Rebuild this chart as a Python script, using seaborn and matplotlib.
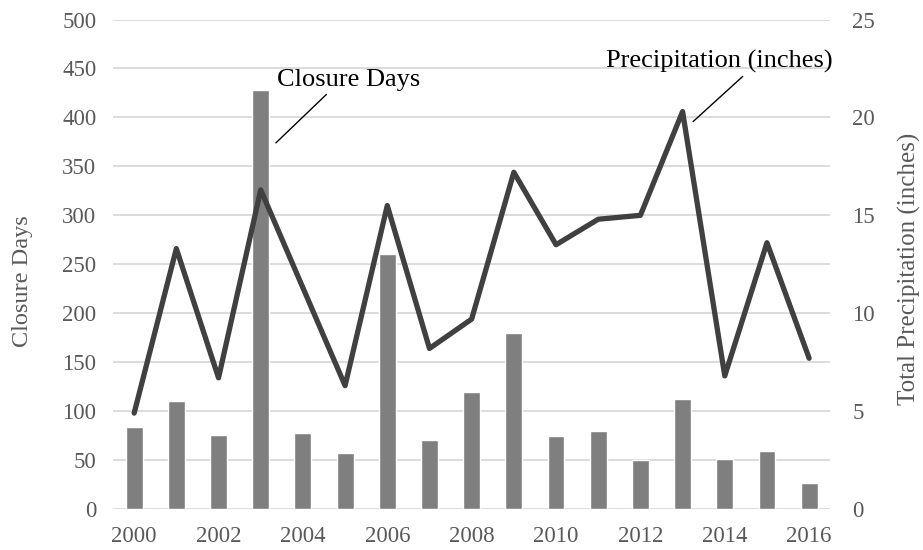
import matplotlib
matplotlib.use("Agg")
import matplotlib.pyplot as plt
import seaborn as sns
import pandas as pd

# Yearly data
years = list(range(2000, 2017))
closure_days = [84, 110, 76, 428, 78, 57, 260, 70, 120, 180, 75, 80, 50, 112, 51, 59, 27]
precip_inches = [4.9, 13.3, 6.7, 16.3, 11.3, 6.3, 15.5, 8.2, 9.7, 17.2, 13.5, 14.8, 15.0, 20.3, 6.8, 13.6, 7.7]
x_ticks = list(range(2000, 2017, 2))
left_ticks = list(range(0, 501, 50))
right_ticks = list(range(0, 26, 5))

df = pd.DataFrame({"Year": years, "Closure Days": closure_days,
                   "Precipitation": precip_inches})

sns.set_theme(style="white")
plt.rcParams["font.family"] = ["Liberation Serif", "DejaVu Serif"]

tick_color = "#595959"
grid_color = "#d9d9d9"
bar_color = "#7f7f7f"
line_color = "#404040"
tick_size = 16.5
note_size = 19

fig = plt.figure(figsize=(9.23, 5.5), dpi=100)
ax = fig.add_axes([0.1225, 0.0745, 0.777, 0.89])

sns.barplot(data=df, x="Year", y="Closure Days", native_scale=True,
            width=0.4, color=bar_color, saturation=1, ax=ax)

ax.set_xlim(1999.5, 2016.5)
ax.set_ylim(0, 500)
ax.set_yticks(left_ticks)
ax.set_xticks(x_ticks)
ax.set_xticklabels([str(t) for t in x_ticks])
ax.grid(axis="y", color=grid_color, linewidth=1.3)
ax.set_axisbelow(True)
for s in ax.spines.values():
    s.set_visible(False)
ax.tick_params(axis="x", length=0, pad=12, labelsize=tick_size, colors=tick_color)
ax.tick_params(axis="y", length=0, pad=12, labelsize=tick_size, colors=tick_color)
ax.set_xlabel("")
ax.set_ylabel("Closure Days", fontsize=17.5, color=tick_color,
              va="center", ha="center")
ax.yaxis.set_label_coords(-0.126, 0.465)

ax2 = ax.twinx()
sns.lineplot(data=df, x="Year", y="Precipitation", color=line_color,
             linewidth=3.8, ax=ax2)
ax2.set_ylim(0, 25)
ax2.set_yticks(right_ticks)
for s in ax2.spines.values():
    s.set_visible(False)
ax2.tick_params(axis="y", length=0, pad=16, labelsize=tick_size, colors=tick_color)
ax2.set_ylabel("Total Precipitation (inches)", fontsize=18, color=tick_color,
               va="center", ha="center", rotation=90)
ax2.yaxis.set_label_coords(1.11, 0.49)

# Series labels with leader lines
ax.annotate("Closure Days", xy=(2003.36, 374), xytext=(2003.38, 438),
            fontsize=note_size, color="black", va="center", ha="left",
            arrowprops=dict(arrowstyle="-", color="black", lw=1,
                            shrinkA=0, shrinkB=0, relpos=(0.37, 0)))
ax2.annotate("Precipitation (inches)", xy=(2013.25, 19.79), xytext=(2011.18, 22.85),
             fontsize=note_size, color="black", va="center", ha="left",
             arrowprops=dict(arrowstyle="-", color="black", lw=1,
                             shrinkA=0, shrinkB=0, relpos=(0.62, 0)))

fig.savefig("out.png", dpi=100)
